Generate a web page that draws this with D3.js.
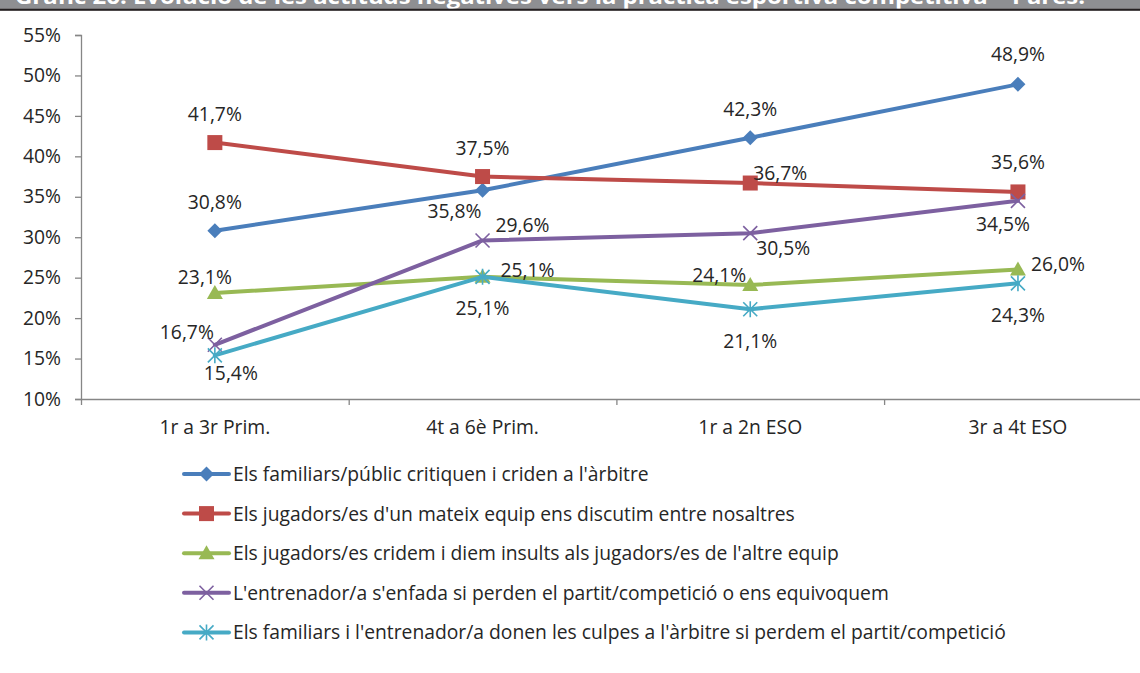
<!DOCTYPE html>
<html><head><meta charset="utf-8">
<script src="https://cdn.jsdelivr.net/npm/d3@7"></script>
<style>
body{margin:0;background:#fff;}
svg{display:block;font-family:"Open Sans",sans-serif;}
</style>
</head><body>
<svg id="chart" width="1140" height="673"></svg>
<script>
// ---- data ----
const categories = ["1r a 3r Prim.", "4t a 6è Prim.", "1r a 2n ESO", "3r a 4t ESO"];
const seriesNames = [
  "Els familiars/públic critiquen i criden a l'àrbitre",
  "Els jugadors/es d'un mateix equip ens discutim entre nosaltres",
  "Els jugadors/es cridem i diem insults als jugadors/es de l'altre equip",
  "L'entrenador/a s'enfada si perden el partit/competició o ens equivoquem",
  "Els familiars i l'entrenador/a donen les culpes a l'àrbitre si perdem el partit/competició"
];
const familiarsCritiquen = [30.8, 35.8, 42.3, 48.9];
const jugadorsDiscutim   = [41.7, 37.5, 36.7, 35.6];
const jugadorsInsults    = [23.1, 25.1, 24.1, 26.0];
const entrenadorEnfada   = [16.7, 29.6, 30.5, 34.5];
const culpesArbitre      = [15.4, 25.1, 21.1, 24.3];
const yTickValues = [10, 15, 20, 25, 30, 35, 40, 45, 50, 55];
const titleText = "Gràfic 26. Evolució de les actituds negatives vers la pràctica esportiva competitiva – Pares.";

// ---- style / layout ----
const colors = ["#4a7ebb", "#be4b48", "#98b954", "#7d60a0", "#46aac5"];
const markers = ["diamond", "square", "triangle", "x", "star"];
// label offsets (text centre relative to point), layout only
const labelOffsets = [
  [[0,-29],[-28,21],[0,-29],[0,-30]],
  [[0,-29],[0,-29],[30,-10],[0,-30]],
  [[-10,-16],[45,-7],[-31,-10],[40,-6]],
  [[-28,-13],[40,-15],[33,15],[-15,23]],
  [[16,18],[0,31],[0,32],[0,32]]
];
const allSeries = [familiarsCritiquen, jugadorsDiscutim, jugadorsInsults, entrenadorEnfada, culpesArbitre];

const svg = d3.select("#chart");
const axisColor = "#868686";
const textColor = "#262626";
const fontSize = 19.3;

const plotLeft = 81, bandW = 267.7;
const x = d3.scaleBand().domain(categories).range([plotLeft, plotLeft + bandW * categories.length]);
const xEdge = d3.scaleLinear().domain([0, categories.length]).range([plotLeft, plotLeft + bandW * categories.length]);
const y = d3.scaleLinear().domain([10, 55]).range([399, 35]);
const cx = c => x(c) + x.bandwidth() / 2;

const loc = d3.formatLocale({decimal: ",", thousands: ".", grouping: [3], currency: ["", "€"]});
const fmt1 = loc.format(".1f");

// ---- title bar (cropped at the top, as in the source) ----
svg.append("rect").attr("x", 0).attr("y", 0).attr("width", 1140).attr("height", 8.5).attr("fill", "#8e8f92");
svg.append("rect").attr("x", 0).attr("y", 8.5).attr("width", 1140).attr("height", 2.3).attr("fill", "#231f20");
const clip = svg.append("clipPath").attr("id", "tclip");
clip.append("rect").attr("x", 0).attr("y", 0).attr("width", 1140).attr("height", 8.5);
svg.append("text").attr("clip-path", "url(#tclip)")
  .attr("x", 15).attr("y", 3.5)
  .attr("textLength", 1070).attr("lengthAdjust", "spacingAndGlyphs")
  .attr("fill", "#fff").attr("font-weight", "bold").attr("font-size", 21)
  .text(titleText);

// ---- axes ----
const yAxis = d3.axisLeft(y).tickValues(yTickValues).tickFormat(d => d + "%").tickSize(6).tickPadding(14);
const gy = svg.append("g").attr("transform", `translate(${plotLeft},0)`).call(yAxis);
gy.select(".domain").attr("stroke", axisColor).attr("stroke-width", 1.3);
gy.selectAll(".tick line").attr("stroke", axisColor).attr("stroke-width", 1.3);
gy.selectAll(".tick text").attr("fill", textColor).attr("font-size", fontSize).attr("font-family", "Open Sans");

const gxEdge = svg.append("g").attr("transform", `translate(0,${y(10)})`)
  .call(d3.axisBottom(xEdge).tickValues(d3.range(categories.length + 1)).tickFormat("").tickSize(6).tickSizeOuter(0));
gxEdge.select(".domain").attr("stroke", axisColor).attr("stroke-width", 1.3);
gxEdge.selectAll(".tick line").attr("stroke", axisColor).attr("stroke-width", 1.3);

const gx = svg.append("g").attr("transform", `translate(0,${y(10)})`)
  .call(d3.axisBottom(x).tickSize(0).tickPadding(21));
gx.select(".domain").remove();
gx.selectAll(".tick text").attr("fill", textColor).attr("font-size", fontSize).attr("font-family", "Open Sans");

// ---- markers ----
function drawMarker(g, type, color, px, py) {
  if (type === "diamond") {
    g.append("path").attr("d", `M${px},${py-7.5}L${px+7.5},${py}L${px},${py+7.5}L${px-7.5},${py}Z`).attr("fill", color);
  } else if (type === "square") {
    g.append("rect").attr("x", px-7.5).attr("y", py-7.5).attr("width", 15).attr("height", 15).attr("fill", color);
  } else if (type === "triangle") {
    g.append("path").attr("d", `M${px},${py-8}L${px+8},${py+6}L${px-8},${py+6}Z`).attr("fill", color);
  } else if (type === "x") {
    g.append("path").attr("d", `M${px-7},${py-7}L${px+7},${py+7}M${px-7},${py+7}L${px+7},${py-7}`)
      .attr("stroke", color).attr("stroke-width", 1.6).attr("fill", "none");
  } else if (type === "star") {
    g.append("path").attr("d", `M${px-7},${py-7}L${px+7},${py+7}M${px-7},${py+7}L${px+7},${py-7}M${px},${py-8}L${px},${py+8}`)
      .attr("stroke", color).attr("stroke-width", 1.6).attr("fill", "none");
  }
}

// ---- series ----
const line = d3.line().x((d, i) => cx(categories[i])).y(d => y(d));
allSeries.forEach((vals, s) => {
  const g = svg.append("g");
  g.append("path").datum(vals).attr("d", line).attr("fill", "none")
    .attr("stroke", colors[s]).attr("stroke-width", 4).attr("stroke-linejoin", "round").attr("stroke-linecap", "round");
  vals.forEach((v, i) => drawMarker(g, markers[s], colors[s], cx(categories[i]), y(v)));
});
// labels on top
allSeries.forEach((vals, s) => {
  vals.forEach((v, i) => {
    const [dx, dy] = labelOffsets[s][i];
    svg.append("text")
      .attr("x", cx(categories[i]) + dx).attr("y", y(v) + dy).attr("dy", "0.36em")
      .attr("text-anchor", "middle").attr("fill", textColor).attr("font-size", fontSize)
      .text(fmt1(v) + "%");
  });
});

// ---- legend ----
const legend = svg.append("g");
seriesNames.forEach((name, s) => {
  const ly = 474 + s * 39.6;
  legend.append("line").attr("x1", 184).attr("x2", 229).attr("y1", ly).attr("y2", ly)
    .attr("stroke", colors[s]).attr("stroke-width", 4).attr("stroke-linecap", "round");
  drawMarker(legend, markers[s], colors[s], 206.5, ly);
  legend.append("text").attr("x", 233).attr("y", ly).attr("dy", "0.36em")
    .attr("fill", textColor).attr("font-size", fontSize).text(name);
});
</script>
</body></html>
